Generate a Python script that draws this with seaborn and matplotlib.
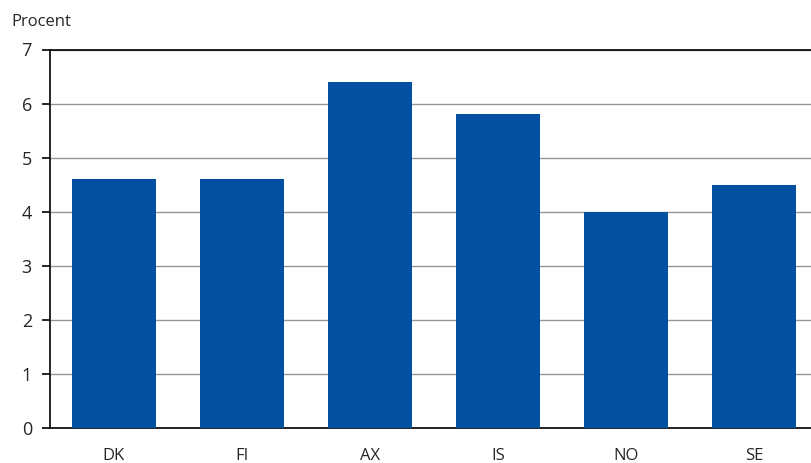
import matplotlib
matplotlib.use('Agg')
import matplotlib.pyplot as plt
import seaborn as sns
import pandas as pd

# data
countries = ['DK', 'FI', 'AX', 'IS', 'NO', 'SE']
values = [4.6, 4.6, 6.4, 5.8, 4.0, 4.5]
yticks = [0, 1, 2, 3, 4, 5, 6, 7]

sns.set_style("white")
plt.rcParams['font.family'] = ['Open Sans', 'DejaVu Sans']

df = pd.DataFrame({'land': countries, 'procent': values})

fig = plt.figure(figsize=(8.11, 4.63), dpi=100)
ax = fig.add_axes([50 / 811, 35 / 463, 768 / 811, 378.5 / 463])

sns.barplot(data=df, x='land', y='procent', color='#0350A2', saturation=1,
            width=0.66, linewidth=0, ax=ax, zorder=3)

ax.set_ylim(0, 7)
ax.set_xlim(-0.5, 5.5)
ax.set_yticks(yticks)
ax.yaxis.grid(True, color='#959595', linewidth=1.0, zorder=0)
ax.set_axisbelow(True)
for s in ['left', 'bottom', 'top']:
    ax.spines[s].set_color('black')
    ax.spines[s].set_linewidth(1.2)
ax.spines['right'].set_visible(False)

ax.tick_params(axis='y', left=True, length=6, width=1.2, color='black',
               labelsize=13, pad=7)
ax.tick_params(axis='x', bottom=False, labelsize=12, pad=11)
ax.set_xlabel('')
ax.set_ylabel('')
fig.text(11 / 811, 1 - 22 / 463, 'Procent', fontsize=12, va='center', ha='left')

plt.savefig('out.png', dpi=100)
